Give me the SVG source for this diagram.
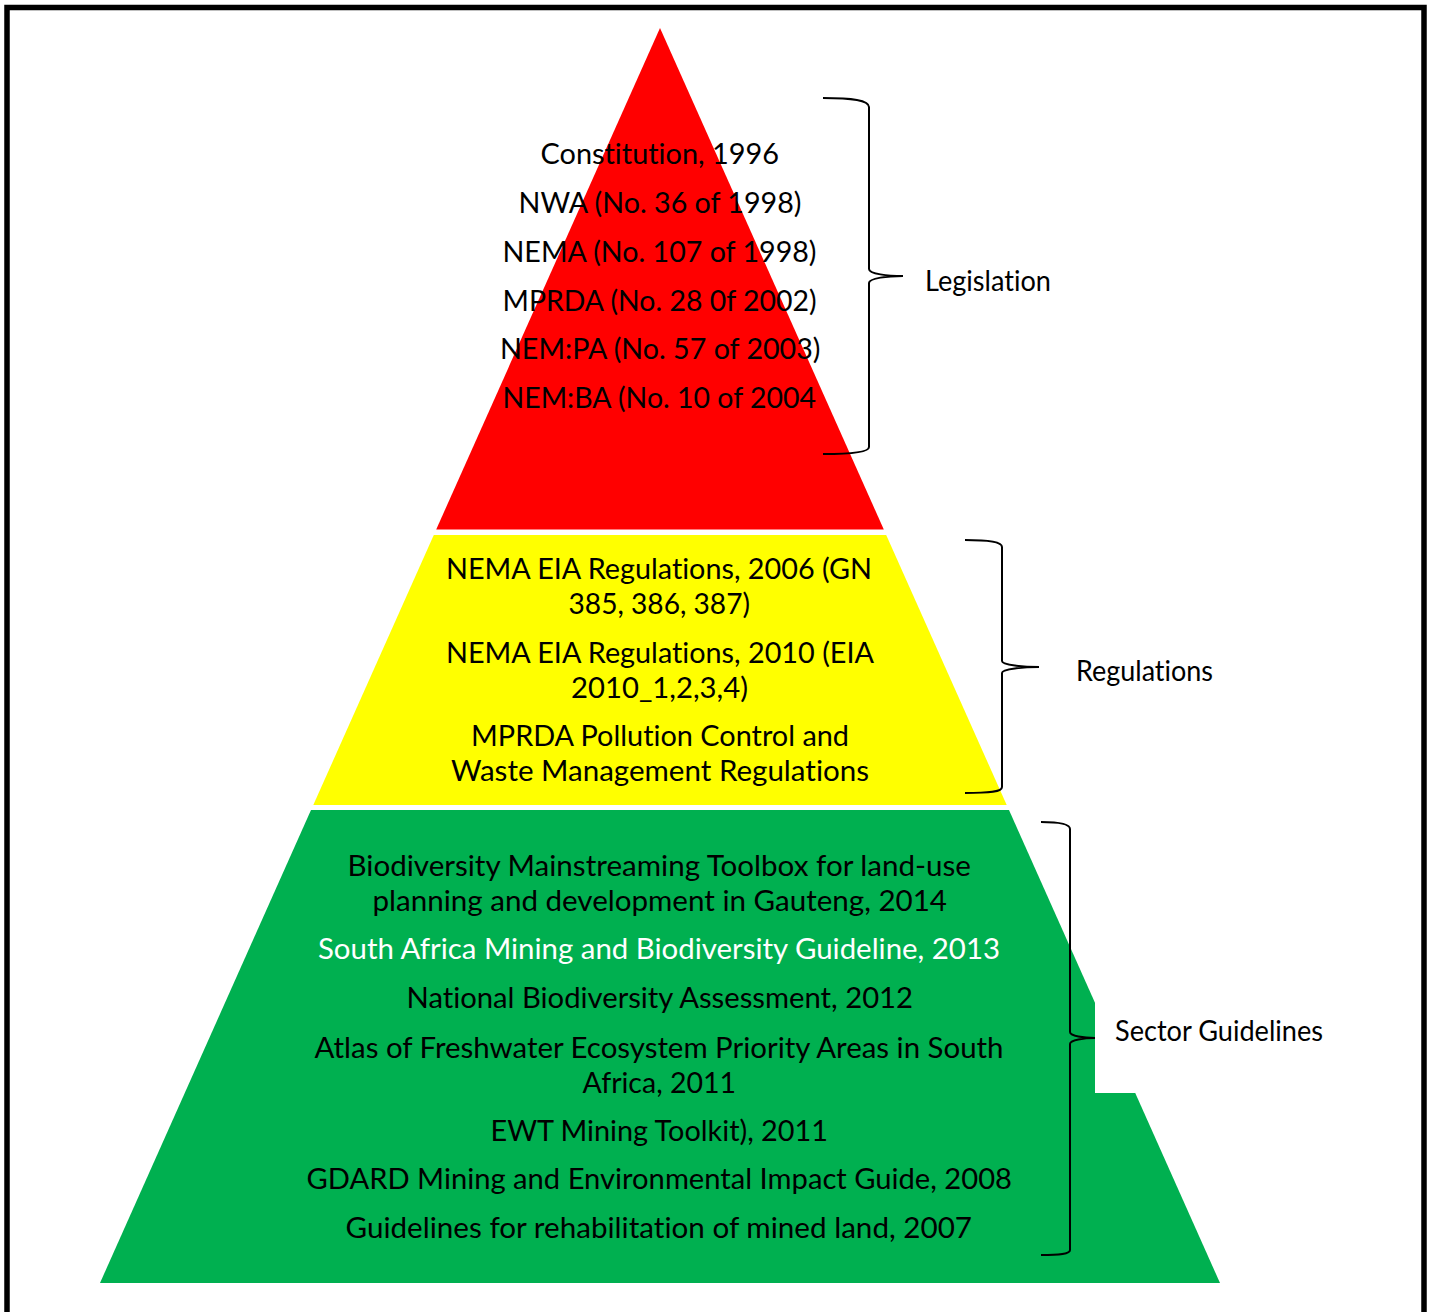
<svg xmlns="http://www.w3.org/2000/svg" width="1432" height="1312" viewBox="0 0 1432 1312">
<style>
  .t { font-family: Lato, "Open Sans", "Liberation Sans", sans-serif; font-size: 28px; fill: #000; font-variant-ligatures: none; }
  .w { fill: #fff; }
  .brace { fill: none; stroke: #000; stroke-width: 2; }
</style>
<rect x="0" y="0" width="1432" height="1312" fill="#fff"/>
<rect x="7" y="7.5" width="1417" height="1400" fill="none" stroke="#000" stroke-width="5.5"/>

<g id="legislation-tier">
  <polygon points="660,28 883.8,529.5 436.2,529.5" fill="#FF0000"/>
  <text class="t" x="540.5" y="163.5" textLength="238.5" lengthAdjust="spacingAndGlyphs">Constitution, 1996</text>
  <text class="t" x="518.5" y="212.5" textLength="283" lengthAdjust="spacingAndGlyphs">NWA (No. 36 of 1998)</text>
  <text class="t" x="502.5" y="261.5" textLength="314" lengthAdjust="spacingAndGlyphs">NEMA (No. 107 of 1998)</text>
  <text class="t" x="502.5" y="310.5" textLength="314" lengthAdjust="spacingAndGlyphs">MPRDA (No. 28 0f 2002)</text>
  <text class="t" x="500" y="359" textLength="320.5" lengthAdjust="spacingAndGlyphs">NEM:PA (No. 57 of 2003)</text>
  <text class="t" x="502.5" y="407.5" textLength="313.5" lengthAdjust="spacingAndGlyphs">NEM:BA (No. 10 of 2004</text>
</g>

<g id="regulations-tier">
  <polygon points="433.8,535 886.2,535 1006.7,805 313.3,805" fill="#FFFF00"/>
  <text class="t" x="446" y="578.5" textLength="426" lengthAdjust="spacingAndGlyphs">NEMA EIA Regulations, 2006 (GN</text>
  <text class="t" x="568.5" y="613.5" textLength="181.5" lengthAdjust="spacingAndGlyphs">385, 386, 387)</text>
  <text class="t" x="446" y="662.5" textLength="428" lengthAdjust="spacingAndGlyphs">NEMA EIA Regulations, 2010 (EIA</text>
  <text class="t" x="571" y="697.5" textLength="177" lengthAdjust="spacingAndGlyphs">2010_1,2,3,4)</text>
  <text class="t" x="471" y="745.5" textLength="378" lengthAdjust="spacingAndGlyphs">MPRDA Pollution Control and</text>
  <text class="t" x="451" y="780.5" textLength="418" lengthAdjust="spacingAndGlyphs">Waste Management Regulations</text>
</g>

<g id="guidelines-tier">
  <polygon points="311,810 1009,810 1220,1283 100,1283" fill="#00B050"/>
  <text class="t" x="347.5" y="875.5" textLength="623.5" lengthAdjust="spacingAndGlyphs">Biodiversity Mainstreaming Toolbox for land-use</text>
  <text class="t" x="372.5" y="910.5" textLength="574.5" lengthAdjust="spacingAndGlyphs">planning and development in Gauteng, 2014</text>
  <text class="t w" x="318" y="958.5" textLength="682" lengthAdjust="spacingAndGlyphs">South Africa Mining and Biodiversity Guideline, 2013</text>
  <text class="t" x="406.5" y="1007.5" textLength="506.5" lengthAdjust="spacingAndGlyphs">National Biodiversity Assessment, 2012</text>
  <text class="t" x="314.5" y="1057.5" textLength="689" lengthAdjust="spacingAndGlyphs">Atlas of Freshwater Ecosystem Priority Areas in South</text>
  <text class="t" x="582.5" y="1092.5" textLength="153.5" lengthAdjust="spacingAndGlyphs">Africa, 2011</text>
  <text class="t" x="490.5" y="1140.5" textLength="337.5" lengthAdjust="spacingAndGlyphs">EWT Mining Toolkit), 2011</text>
  <text class="t" x="306.5" y="1188.5" textLength="705.5" lengthAdjust="spacingAndGlyphs">GDARD Mining and Environmental Impact Guide, 2008</text>
  <text class="t" x="345.5" y="1237.5" textLength="626.5" lengthAdjust="spacingAndGlyphs">Guidelines for rehabilitation of mined land, 2007</text>
</g>

<g id="connectors">
  <path class="brace" d="M823,98 C852,98 869,100 869,107 L869,269 C869,274 888,276 903,276 C888,276 869,278 869,283 L869,447 C869,452 852,454 823,454"/>
  <path class="brace" d="M965,540 C990,540 1002,542 1002,547 L1002,661 C1002,665 1024,667 1039,667 C1024,667 1002,669 1002,673 L1002,787 C1002,792 990,793 965,793"/>
  <path class="brace" d="M1041,822 C1060,822 1070,824 1070,829 L1070,1032 C1070,1036 1084,1038 1095,1038 C1084,1038 1070,1040 1070,1044 L1070,1250 C1070,1254 1060,1255 1041,1255"/>
</g>

<g id="label-legislation">
  <text class="t" x="925" y="291" textLength="126" lengthAdjust="spacingAndGlyphs">Legislation</text>
</g>
<g id="label-regulations">
  <text class="t" x="1076" y="680.5" textLength="137" lengthAdjust="spacingAndGlyphs">Regulations</text>
</g>
<g id="label-sector">
  <rect x="1095" y="1002" width="240" height="91" fill="#fff"/>
  <text class="t" x="1115" y="1041" textLength="208" lengthAdjust="spacingAndGlyphs">Sector Guidelines</text>
</g>
</svg>
